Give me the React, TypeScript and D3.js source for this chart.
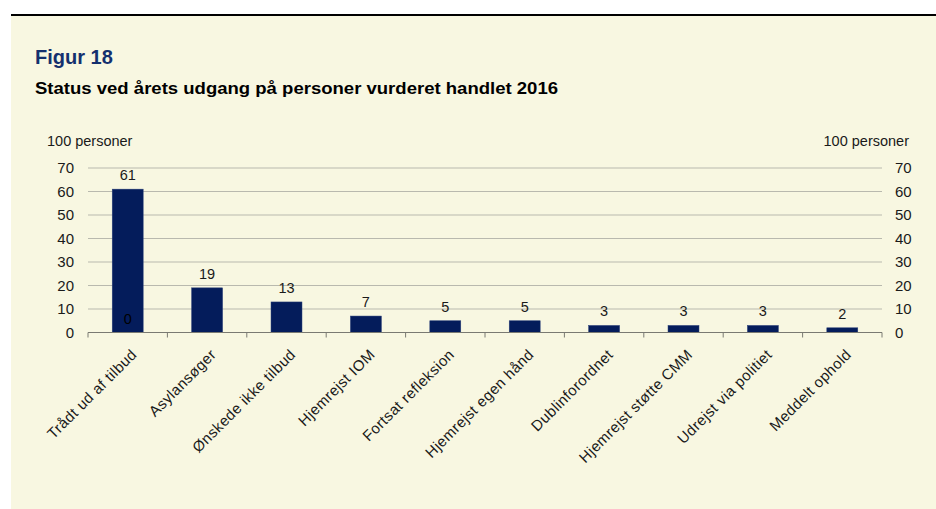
import React from "react";
import * as d3 from "d3";

const categories = [
  "Trådt ud af tilbud",
  "Asylansøger",
  "Ønskede ikke tilbud",
  "Hjemrejst IOM",
  "Fortsat refleksion",
  "Hjemrejst egen hånd",
  "Dublinforordnet",
  "Hjemrejst støtte CMM",
  "Udrejst via politiet",
  "Meddelt ophold",
];
const values = [61, 19, 13, 7, 5, 5, 3, 3, 3, 2];
const secondLabels = [0]; // extra "0" label on first category
const yTicks = [0, 10, 20, 30, 40, 50, 60, 70];
const title = "Figur 18";
const subtitle = "Status ved årets udgang på personer vurderet handlet 2016";
const unitLabel = "100 personer";

const W = 936;
const H = 509;
const FONT = "'Liberation Sans', Arial, Helvetica, sans-serif";

export default function App() {
  const left = 88;
  const right = 882;
  const top = 168;
  const bottom = 332.5;

  const x = d3.scaleBand<string>().domain(categories).range([left, right]).paddingInner(0).paddingOuter(0);
  const y = d3.scaleLinear().domain([0, 70]).range([bottom, top]);
  const bw = x.bandwidth();
  const barW = bw * 0.39;
  const boundaries = d3.range(categories.length + 1).map((i) => left + i * bw);

  return (
    <svg
      width={W}
      height={H}
      style={{ position: "absolute", left: 0, top: 0, background: "#ffffff" }}
      fontFamily={FONT}
    >
      <rect x={11} y={15} width={W - 11} height={H - 15} fill="#f8f7e1" />
      <rect x={11} y={14} width={W - 11} height={2} fill="#000000" />
      <text x={35} y={64} fontSize={20} fontWeight="bold" fill="#14306e">
        {title}
      </text>
      <text x={35} y={94} fontSize={16.5} fontWeight="bold" fill="#000000" textLength={523} lengthAdjust="spacingAndGlyphs">
        {subtitle}
      </text>

      {/* gridlines */}
      {yTicks.filter((t) => t > 0).map((t) => (
        <line key={t} x1={left} x2={right} y1={y(t)} y2={y(t)} stroke="#b9b9ae" strokeWidth={1} />
      ))}

      {/* bars */}
      {categories.map((c, i) => (
        <rect
          key={c}
          x={(x(c) as number) + bw / 2 - barW / 2}
          y={y(values[i])}
          width={barW}
          height={y(0) - y(values[i])}
          fill="#041c5b"
          stroke="#2a3f78"
          strokeWidth={0.5}
        />
      ))}

      {/* x axis */}
      <line x1={left} x2={right} y1={bottom} y2={bottom} stroke="#7a7a72" strokeWidth={1} />
      {boundaries.map((b, i) => (
        <line key={i} x1={b} x2={b} y1={bottom} y2={bottom + 5} stroke="#7a7a72" strokeWidth={1} />
      ))}

      {/* y tick labels */}
      {yTicks.map((t) => (
        <g key={t}>
          <text x={74} y={y(t)} dy="0.35em" textAnchor="end" fontSize={15} fill="#1a1a1a">
            {t}
          </text>
          <text x={895} y={y(t)} dy="0.35em" textAnchor="start" fontSize={15} fill="#1a1a1a">
            {t}
          </text>
        </g>
      ))}
      <text x={47} y={146} fontSize={14.5} fill="#1a1a1a">
        {unitLabel}
      </text>
      <text x={909} y={146} fontSize={14.5} textAnchor="end" fill="#1a1a1a">
        {unitLabel}
      </text>

      {/* value labels */}
      {categories.map((c, i) => (
        <text
          key={c}
          x={(x(c) as number) + bw / 2}
          y={y(values[i]) - 9}
          textAnchor="middle"
          fontSize={14.5}
          fill="#1a1a1a"
        >
          {values[i]}
        </text>
      ))}
      {secondLabels.map((v, i) => (
        <text
          key={"s" + i}
          x={(x(categories[i]) as number) + bw / 2}
          y={y(v) - 9}
          textAnchor="middle"
          fontSize={14.5}
          fill="#000000"
        >
          {v}
        </text>
      ))}

      {/* category labels */}
      {categories.map((c) => {
        const cx = (x(c) as number) + bw / 2 + 10;
        const cy = bottom + 23;
        return (
          <text
            key={c}
            transform={`translate(${cx},${cy}) rotate(-45)`}
            textAnchor="end"
            fontSize={15}
            letterSpacing={0.4}
            fill="#1a1a1a"
          >
            {c}
          </text>
        );
      })}
    </svg>
  );
}
